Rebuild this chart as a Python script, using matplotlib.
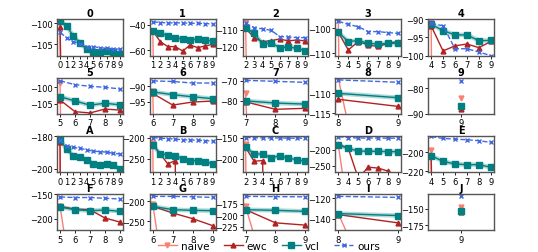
import matplotlib
matplotlib.use("Agg")
import matplotlib.pyplot as plt
from matplotlib.ticker import MaxNLocator

titles = ["0", "1", "2", "3", "4", "5", "6", "7", "8", "9",
          "A", "B", "C", "D", "E", "F", "G", "H", "I", "J"]

naive = [
    [-99.6, -400, -420, -440, -450, -460, -470, -480, -490, -500],
    [-45.0, -400, -420, -440, -450, -460, -470, -480, -490],
    [-104.5, -400, -420, -440, -450, -460, -470, -480],
    [-96.7, -400, -420, -440, -450, -460, -470],
    [-90.5, -400, -420, -440, -450, -460],
    [-98.7, -400, -420, -440, -450],
    [-91.5, -400, -420, -440],
    [-76.3, -400, -420],
    [-106.2, -177],
    [-83.8],
    [-183.3, -900, -950, -1000, -1000, -1000, -1000, -1000, -1000, -1000],
    [-213.0, -2000, -2000, -2000, -2000, -2000, -2000, -2000, -2000],
    [-165.0, -2000, -2000, -2000, -2000, -2000, -2000, -2000],
    [-185.0, -400, -600, -700, -800, -800, -800],
    [-197.5, -900, -950, -1000, -1000, -1000],
    [-173.6, -375, -450, -500, -550],
    [-206.7, -540, -600, -650],
    [-180.7, -400, -500],
    [-135.0, -263],
    [-148.0],
]

ewc = [
    [-100.8, -180, -200, -220, -240, -260, -280, -300, -320, -340],
    [-44.8, -53.3, -57.3, -57.3, -60.8, -56.0, -58.1, -56.8, -55.5],
    [-109.0, -114.6, -117.0, -116.4, -115.4, -116.6, -116.0, -116.6],
    [-101.6, -108.7, -105.3, -106.7, -107.3, -106.0, -105.3],
    [-91.8, -98.7, -97.3, -96.8, -97.8, -96.1],
    [-103.9, -107.5, -107.9, -106.7, -107.0],
    [-92.3, -96.1, -95.1, -94.8],
    [-80.5, -84.2, -83.7],
    [-111.5, -113.3],
    [-88.0],
    [-183.7, -800, -850, -900, -900, -900, -900, -900, -900, -900],
    [-215.4, -238.5, -261.5, -253.8, -2000, -2000, -2000, -2000, -2000],
    [-173.0, -205.4, -203.8, -1500, -1500, -1500, -1500, -1500],
    [-182.0, -196.0, -290.0, -255.0, -258.0, -267.7, -285.0],
    [-203.0, -900, -950, -1000, -1000, -1000],
    [-175.0, -180.4, -181.8, -198.6, -206.8],
    [-212.5, -229.2, -243.3, -260.8],
    [-187.9, -216.4, -221.4],
    [-135.9, -143.8],
    [-155.0],
]

vcl = [
    [-99.4, -100.6, -103.1, -104.7, -106.2, -106.9, -106.9, -106.7, -106.9, -107.5],
    [-44.8, -46.7, -48.5, -50.7, -50.9, -51.7, -51.5, -52.0, -52.8],
    [-108.6, -112.0, -118.4, -117.8, -120.6, -120.2, -121.0, -122.4],
    [-101.6, -105.3, -104.9, -106.0, -106.3, -106.0, -106.0],
    [-91.4, -93.1, -94.3, -94.3, -95.9, -95.8],
    [-102.9, -104.2, -105.5, -104.9, -105.4],
    [-91.8, -92.7, -93.4, -94.0],
    [-80.0, -81.1, -81.6],
    [-110.0, -111.1],
    [-86.8],
    [-182.0, -187.8, -191.8, -192.9, -194.5, -196.9, -197.3, -197.1, -197.6, -200.0],
    [-217.7, -238.5, -240.0, -242.3, -250.0, -253.8, -253.8, -257.7, -260.8],
    [-173.0, -188.5, -188.5, -197.7, -192.3, -198.5, -201.5, -205.4],
    [-185.4, -195.8, -204.0, -205.0, -205.0, -206.0, -206.0],
    [-203.5, -209.5, -212.3, -213.0, -213.0, -215.8],
    [-176.4, -181.8, -183.8, -182.4, -185.0],
    [-212.5, -220.8, -222.5, -223.3],
    [-187.9, -189.3, -191.4],
    [-134.9, -136.8],
    [-154.0],
]

ours = [
    [-102.2, -103.5, -104.4, -104.9, -105.6, -105.6, -105.9, -106.0, -106.2, -106.2],
    [-37.6, -38.1, -38.4, -38.4, -38.4, -38.7, -38.7, -39.0, -39.2],
    [-106.0, -108.6, -109.4, -110.2, -114.0, -114.2, -114.6, -114.6],
    [-97.1, -98.4, -99.3, -101.3, -101.3, -101.7, -102.0],
    [-91.1, -91.8, -98.1, -98.1, -99.0, -100.0],
    [-98.0, -99.2, -99.7, -100.0, -100.5],
    [-88.2, -88.4, -88.9, -88.9],
    [-69.8, -70.3, -70.8],
    [-106.6, -107.2],
    [-77.1],
    [-182.0, -185.7, -186.7, -187.3, -188.2, -189.0, -189.4, -189.6, -190.4, -190.8],
    [-200.0, -201.5, -202.5, -204.0, -205.0, -206.0, -206.0, -207.5, -208.0],
    [-150.0, -150.5, -151.0, -151.0, -151.0, -151.5, -151.5, -151.5],
    [-159.0, -161.5, -163.0, -163.0, -163.0, -163.5, -163.5],
    [-183.2, -185.3, -186.0, -186.7, -187.7, -189.5],
    [-156.0, -157.0, -157.0, -158.5, -160.0],
    [-187.5, -187.5, -188.5, -190.0],
    [-159.0, -159.5, -160.0],
    [-118.4, -119.4],
    [-131.5],
]

ylims = [
    (-107.8, -99.0), (-64.5, -35.5), (-125.4, -103.6), (-111.0, -96.3), (-100.0, -90.0),
    (-108.2, -97.0), (-99.0, -87.1), (-86.5, -68.4), (-115.2, -106.0), (-90.05, -75.9),
    (-202.0, -179.6), (-281.0, -196.0), (-231.0, -146.0), (-271.0, -156.0), (-221.0, -182.5),
    (-224.0, -150.0), (-273.0, -181.7), (-233.0, -154.0), (-151.1, -116.2), (-183.0, -128.0),
]

C_NAIVE = "#fa8072"
C_EWC = "#b22222"
C_VCL = "#008080"
C_OURS = "#4169e1"

fig, axes = plt.subplots(4, 5, figsize=(5.38, 2.53), dpi=100)
fig.subplots_adjust(left=0.106, right=0.918, top=0.92, bottom=0.085,
                    wspace=0.41, hspace=0.6)

handles = None
for k, ax in enumerate(axes.flat):
    start = k % 10
    xs = list(range(start, 10))
    h1, = ax.plot(xs, naive[k], color=C_NAIVE, marker="v", ms=3.5, lw=1.0, label="naive")
    h2, = ax.plot(xs, ewc[k], color=C_EWC, marker="^", ms=3.5, lw=1.0, label="ewc")
    ax.plot(xs, vcl[k], color=C_VCL, lw=3.2, alpha=0.3, solid_capstyle="round")
    h3, = ax.plot(xs, vcl[k], color=C_VCL, marker="s", ms=3.8, lw=1.0, label="vcl")
    h4, = ax.plot(xs, ours[k], color=C_OURS, marker="x", ms=3.5, lw=1.0, ls="--", label="ours")
    if handles is None:
        handles = [h1, h2, h3, h4]
    ax.set_ylim(*ylims[k])
    ax.set_xticks(xs)
    ax.yaxis.set_major_locator(MaxNLocator(nbins=2, steps=[1, 2, 2.5, 5, 10]))
    ax.set_title(titles[k], fontsize=7, fontweight="bold", pad=2)
    ax.tick_params(labelsize=6, length=2, pad=1.2, width=0.6)
    for sp in ax.spines.values():
        sp.set_color("#555555")
        sp.set_linewidth(1.0)

fig.legend(handles, ["naive", "ewc", "vcl", "ours"], loc="center",
           bbox_to_anchor=(0.5, 0.024), ncol=4, frameon=False, fontsize=7.5,
           handlelength=1.8, columnspacing=1.4, handletextpad=0.4,
           borderpad=0.0)

fig.savefig("out.png", dpi=100)
